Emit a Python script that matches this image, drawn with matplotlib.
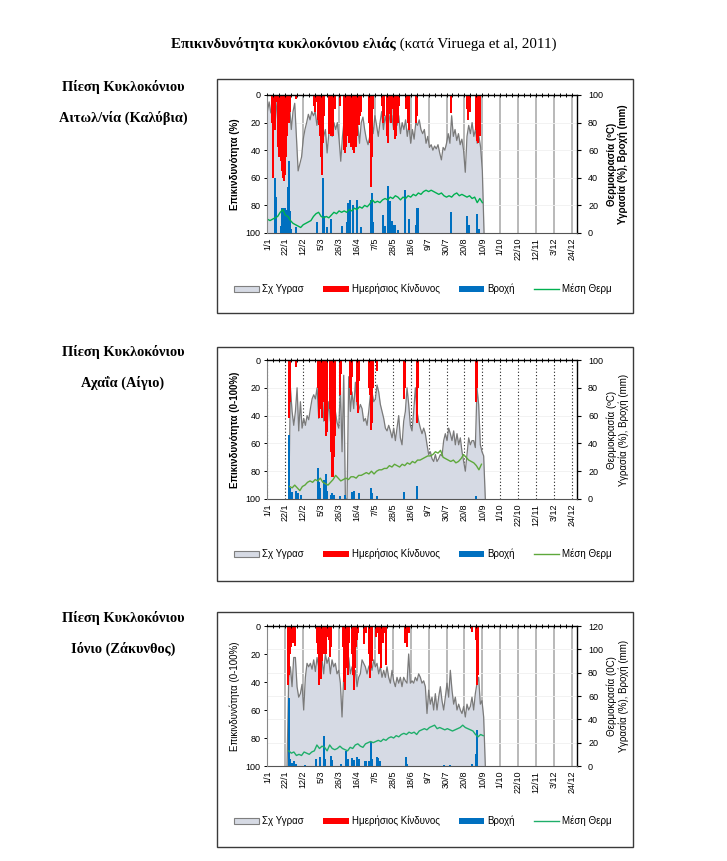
import numpy as np
import matplotlib
matplotlib.use("Agg")
import matplotlib.pyplot as plt
from matplotlib.patches import Rectangle, Patch
from matplotlib.ticker import MultipleLocator

plt.rcParams['font.family'] = ['Liberation Sans', 'DejaVu Sans']

W, H = 727, 861

TITLE_BOLD = "Επικινδυνότητα κυκλοκόνιου ελιάς"
TITLE_REST = " (κατά Viruega et al, 2011)"

# x axis = day of year (0 = 1/1), one label every 21 days
tick_labels = ['1/1', '22/1', '12/2', '5/3', '26/3', '16/4', '7/5', '28/5', '18/6',
               '9/7', '30/7', '20/8', '10/9', '1/10', '22/10', '12/11', '3/12', '24/12']

# ---------------- Αιτωλ/νία (Καλύβια) ----------------
hum1_span = (0, 254)          # first / last day of the humidity series
hum1 = [88, 95, 87, 92, 85, 95, 82, 92, 80, 90, 78, 88, 82, 92, 75, 88, 94, 70, 45, 50,
        55, 68, 75, 80, 86, 82, 88, 85, 88, 78, 86, 72, 80, 70, 75, 58, 72, 78, 70, 80,
        75, 80, 68, 52, 70, 82, 75, 85, 72, 80, 65, 75, 70, 78, 65, 80, 84, 75, 68, 64,
        70, 82, 72, 85, 78, 70, 80, 88, 75, 85, 78, 88, 80, 85, 75, 82, 78, 85, 72, 80,
        75, 82, 70, 78, 65, 75, 68, 80, 78, 82, 75, 72, 75, 65, 70, 62, 64, 60, 63, 61,
        64, 58, 53, 62, 60, 65, 72, 65, 85, 70, 75, 67, 72, 64, 68, 60, 44, 70, 78, 72,
        80, 70, 75, 65, 70, 62, 45, 0]
risk1_days = [5, 6, 7, 8, 9, 10, 12, 13, 14, 15, 16, 17, 18, 19, 20, 21, 22, 23, 25, 26,
              33, 55, 56, 57, 59, 60, 61, 62, 63, 64, 65, 66, 72, 73, 74, 76, 77, 79, 85, 90,
              91, 92, 93, 94, 95, 96, 97, 98, 99, 100, 101, 102, 103, 104, 105, 106, 107,
              108, 109, 110,
              119, 120, 121, 122, 123, 124, 134, 135, 137, 140, 141, 142, 144, 145, 147,
              148, 150, 151, 153, 154,
              162, 165, 166, 174, 175, 215, 234, 235, 236, 238, 245, 246, 247, 248, 249]
risk1 = [20, 55, 60, 15, 25, 5, 10, 38, 45, 30, 48, 55, 60, 62, 58, 58, 45, 30, 20, 12,
         3, 8, 12, 5, 18, 22, 10, 30, 45, 58, 35, 15, 28, 10, 30, 5, 30, 10, 8, 40,
         42, 38, 20, 25, 30, 35, 28, 38, 12, 40, 42, 20, 30, 38, 30, 8, 22,
         15, 8, 12,
         20, 35, 50, 67, 45, 10, 8, 20, 15, 30, 35, 6, 14, 20, 10,
         25, 32, 30, 20, 8,
         10, 20, 25, 20, 15, 13, 10, 18, 8, 12, 25, 33, 35, 20, 30]
rain1_days = [9, 10, 16, 17, 18, 19, 20, 21, 22, 23, 24, 25, 26, 27, 28, 34, 58, 65, 66,
              70, 74, 75, 87, 93, 95, 97, 100, 105, 110, 121, 122, 123, 124, 136, 138,
              141, 144, 146, 149, 153, 161, 166, 174, 176, 215, 234, 236, 246, 248]
rain1 = [40, 26, 5, 18, 17, 12, 18, 15, 17, 14, 33, 52, 16, 8, 3, 4, 8, 40, 12,
         4, 10, 6, 5, 8, 22, 24, 20, 24, 4, 10, 24, 29, 8, 13, 5,
         34, 23, 9, 6, 2, 31, 10, 6, 18, 15, 12, 6, 14, 3]
temp1_start = 0               # one reading every 3 days
temp1 = [10, 9, 10, 11, 12, 15, 17, 13, 12, 9, 7, 6, 5, 4, 6, 7, 8, 9, 12, 14,
         15, 12, 11, 12, 11, 13, 15, 14, 16, 15, 16, 15, 17, 16, 18, 17, 19, 18, 20, 19,
         21, 24, 22, 23, 22, 24, 25, 24, 26, 25, 27, 26, 24, 26, 25, 27, 26, 28, 27, 29,
         28, 30, 31, 30, 31, 30, 29, 28, 29, 27, 26, 27, 26, 28, 29, 27, 28, 27, 26, 27,
         25, 26, 22, 25, 22]

# ---------------- Αχαΐα (Αίγιο) ----------------
hum2_span = (25, 255.5)
hum2 = [0, 80, 63, 53, 63, 80, 49, 70, 51, 58, 53, 60, 57, 65, 72, 75, 72, 80, 58, 75, 82,
        56, 60, 51, 70, 56, 63, 49, 63, 55, 51, 80, 34, 89, 0, 0, 88, 63, 77, 65, 84,
        68, 64, 68, 65, 56, 58, 53, 63, 75, 77, 70, 72, 82, 77, 68, 63, 58, 51, 49, 53,
        49, 44, 51, 42, 51, 60, 44, 39, 56, 63, 80, 68, 53, 49, 63, 80, 63, 56, 51, 47,
        51, 47, 39, 32, 34, 29, 27, 32, 27, 29, 32, 31, 42, 47, 42, 51, 47, 42, 49, 39,
        47, 39, 44, 34, 27, 20, 32, 44, 39, 42, 42, 37, 80, 68, 39, 34, 31, 0]
risk2_days = [25, 26, 34, 59, 60, 61, 62, 63, 64, 65, 66, 67, 68, 69, 70, 73, 74, 75, 76,
              77, 78, 79, 85, 86, 97, 98, 99, 105, 106, 107, 119, 120, 121, 122, 123, 124,
              128, 160, 161, 175, 176, 245, 246]
risk2 = [42, 30, 5, 20, 42, 40, 15, 35, 42, 30, 25, 10, 44, 55, 52, 35, 62, 66, 84,
         84, 70, 55, 25, 10, 20, 25, 12, 30, 38, 15, 20, 25, 35, 50, 45, 20,
         8, 28, 20, 45, 20, 30, 20]
rain2_days = [25, 26, 29, 34, 36, 39, 59, 60, 62, 66, 69, 70, 74, 76, 78, 85, 91, 99, 101,
              107, 121, 122, 123, 128, 160, 175, 245]
rain2 = [46, 8, 5, 6, 4, 3, 22, 12, 8, 14, 18, 6, 3, 4, 3, 2, 3, 5, 6,
         4, 8, 6, 4, 2, 5, 9, 2]
temp2_start = 26
temp2 = [9, 8, 10, 8, 6, 9, 10, 12, 13, 12, 14, 13, 15, 12, 11, 10, 12, 14, 17, 15,
         13, 14, 15, 14, 16, 16, 15, 17, 17, 18, 19, 18, 20, 18, 20, 21, 21, 22, 22, 24,
         23, 25, 24, 23, 25, 24, 26, 25, 27, 26, 28, 28, 29, 30, 31, 31, 32, 34, 33, 35,
         30, 29, 28, 27, 28, 26, 27, 29, 32, 30, 28, 27, 26, 24, 21, 25]

# ---------------- Ιόνιο (Ζάκυνθος) ----------------
hum3_span = (23, 255.5)
hum3 = [0, 76, 85, 68, 93, 93, 68, 59, 62, 70, 48, 76, 88, 85, 88, 83, 91, 81, 93, 85, 99,
        91, 79, 96, 88, 93, 79, 91, 85, 88, 79, 82, 71, 42, 76, 91, 85, 93, 79, 85, 76,
        82, 68, 76, 79, 91, 88, 85, 79, 85, 88, 82, 91, 85, 88, 79, 85, 76, 82, 76, 85,
        76, 71, 82, 73, 68, 76, 71, 76, 68, 76, 73, 71, 96, 71, 73, 71, 76, 73, 79, 76,
        71, 73, 68, 45, 65, 53, 59, 48, 62, 48, 59, 68, 56, 48, 59, 71, 59, 82, 65, 53,
        59, 48, 53, 48, 45, 51, 42, 53, 48, 51, 59, 48, 62, 71, 76, 53, 56, 42, 0]
risk3_days = [24, 25, 26, 27, 28, 29, 30, 31, 32, 58, 59, 60, 61, 62, 63, 64, 65, 66, 67,
              68, 69, 70, 72, 73, 74, 89, 90, 91, 92, 93, 94, 95, 96, 99, 100, 101, 102,
              103, 104, 105, 106, 113, 115, 119, 120, 121, 122, 123, 127, 128, 131, 132,
              133, 135, 137, 139, 161, 164, 166, 240, 245, 246, 247]
risk3 = [42, 35, 20, 10, 15, 8, 12, 5, 14, 12, 20, 36, 42, 30, 38, 25, 15, 20, 8,
         12, 20, 8, 10, 22, 15, 15, 40, 46, 30, 20, 35, 25, 12, 20, 35, 38, 46,
         30, 15, 10, 5, 13, 5, 20, 37, 30, 12, 25, 8, 5, 20, 8,
         30, 12, 5, 28, 12, 15, 5, 4, 10, 42, 35]
rain3_days = [25, 26, 29, 31, 33, 44, 57, 62, 66, 68, 74, 76, 86, 92, 95, 99, 101, 105,
              107, 115, 119, 121, 123, 128, 130, 132, 162, 164, 207, 214, 240, 245, 246]
rain3 = [58, 6, 3, 4, 2, 1, 6, 8, 26, 6, 9, 5, 2, 13, 6, 7, 5, 8,
         6, 4, 4, 21, 6, 8, 7, 4, 8, 2, 1, 1, 2, 10, 31]
temp3_start = 25
temp3 = [13, 11, 12, 9, 10, 9, 12, 11, 10, 12, 13, 18, 15, 17, 16, 13, 18, 15, 14, 15,
         17, 15, 14, 13, 16, 15, 18, 19, 17, 16, 19, 20, 21, 20, 21, 22, 21, 23, 22, 24,
         25, 24, 26, 25, 27, 28, 27, 29, 28, 29, 27, 30, 31, 32, 31, 33, 34, 35, 32, 33,
         32, 31, 32, 31, 30, 31, 32, 33, 35, 33, 32, 31, 30, 27, 25, 27, 26]

AREA = '#d6dae4'
RED = '#ff0000'
BLUE = '#0070c0'
BAR_W = 2.4   # days

fig = plt.figure(figsize=(W / 100, H / 100), dpi=100)


def fx(px):
    return px / W


def fy(py):
    return 1 - py / H


def risk_panel(plot_px, box_px, legend_py, heads, left_label, left_bold, right_label,
               right_bold, right_max, grid_kw, temp_color,
               hum_span, hum, risk_days, risk, rain_days, rain, temp_start, temp):
    x0, y0, x1, y1 = plot_px
    rect = [fx(x0), fy(y1), fx(x1 - x0), (y1 - y0) / H]
    ax_r = fig.add_axes(rect)                      # right scale
    ax_l = fig.add_axes(rect, sharex=ax_r)         # left (inverted) scale
    ax_l.patch.set_visible(False)

    hum_days = np.linspace(hum_span[0], hum_span[1], len(hum))
    temp_days = np.arange(temp_start, temp_start + 3 * len(temp), 3)

    ax_r.fill_between(hum_days, hum, color=AREA, lw=0, zorder=1)
    ax_r.plot(hum_days, hum, color='#7a7a7a', lw=0.9, zorder=2)
    ax_r.bar(rain_days, rain, width=BAR_W, color=BLUE, lw=0, zorder=3)
    ax_r.plot(temp_days, temp, color=temp_color, lw=1.0, zorder=4)
    ax_l.bar(risk_days, risk, width=BAR_W, color=RED, lw=0)

    ax_r.set_xlim(-0.5, 363)
    ax_r.set_ylim(0, right_max)
    ax_l.set_ylim(100, 0)

    ax_r.set_xticks(np.arange(len(tick_labels)) * 21)
    ax_r.set_xticklabels(tick_labels, rotation=90, fontsize=6.5)
    ax_r.xaxis.set_minor_locator(MultipleLocator(7))
    ax_r.tick_params(axis='x', which='both', length=0, pad=3.5, top=False)
    ax_r.yaxis.tick_right()
    ax_r.set_yticks(range(0, right_max + 1, 20))
    ax_r.tick_params(axis='y', labelsize=6.5, length=3, width=0.8, pad=5)
    ax_r.grid(axis='x', which='major', **grid_kw)
    ax_r.grid(axis='y', color='#f0f0f0', lw=0.6)
    ax_r.set_axisbelow(True)

    ax_l.tick_params(axis='x', which='both', top=True, bottom=False, labeltop=False,
                     labelbottom=False, direction='inout', length=3, width=0.7)
    ax_l.set_yticks(range(0, 101, 20))
    ax_l.tick_params(axis='y', labelsize=6.5, length=2.5, width=0.7, pad=2)

    for s in ('top', 'left'):
        ax_r.spines[s].set_visible(False)
    ax_r.spines['right'].set_color('black')
    ax_r.spines['right'].set_linewidth(1.0)
    ax_r.spines['bottom'].set_color('#555555')
    ax_r.spines['bottom'].set_linewidth(0.8)
    for s in ('right', 'bottom'):
        ax_l.spines[s].set_visible(False)
    ax_l.spines['top'].set_color('black')
    ax_l.spines['top'].set_linewidth(1.0)
    ax_l.spines['left'].set_color('#888888')
    ax_l.spines['left'].set_linewidth(0.8)

    ymid = fy((y0 + y1) / 2)
    fig.text(fx(x0 - 32), ymid, left_label, rotation=90, ha='center', va='center',
             fontsize=7, fontweight='bold' if left_bold else 'normal')
    fig.text(fx(x1 + 40.5), ymid, right_label, rotation=90, ha='center', va='center',
             fontsize=7, multialignment='center', linespacing=1.15,
             fontweight='bold' if right_bold else 'normal')

    bx0, by0, bx1, by1 = box_px
    fig.add_artist(Rectangle((fx(bx0), fy(by1)), fx(bx1 - bx0), (by1 - by0) / H,
                             transform=fig.transFigure, fill=False,
                             ec='#3a3a3a', lw=1.0))

    handles = [Patch(facecolor=AREA, edgecolor='#7f7f7f', lw=0.8),
               Patch(facecolor=RED), Patch(facecolor=BLUE),
               plt.Line2D([], [], color=temp_color, lw=1.0)]
    labels = ['Σχ Υγρασ', 'Ημερήσιος Κίνδυνος', 'Βροχή', 'Μέση Θερμ']
    fig.legend(handles, labels, loc='center', bbox_to_anchor=(fx(423), fy(legend_py)),
               ncol=4, frameon=False, fontsize=7, handlelength=2.6, handleheight=0.55,
               handletextpad=0.3, columnspacing=2.0)

    for text, py in zip(heads, (y0 - 8, y0 + 23)):
        fig.text(fx(123), fy(py), text, ha='center', va='center', fontsize=10.4,
                 fontweight='bold', family=['Liberation Serif', 'DejaVu Serif'])


solid_grid = dict(color='#a6a6a6', lw=1.1, ls='-')
dotted_grid = dict(color='#222222', lw=0.8, ls=(0, (1, 2)))

risk_panel((267, 95, 577, 233), (217, 79, 633, 313), 289,
           ("Πίεση Κυκλοκόνιου", "Αιτωλ/νία (Καλύβια)"),
           "Επικινδυνότητα (%)", True,
           "Θερμοκρασία (ºC)\nΥγρασία (%), Βροχή (mm)", True,
           100, solid_grid, '#00b050',
           hum1_span, hum1, risk1_days, risk1, rain1_days, rain1, temp1_start, temp1)

risk_panel((267, 360, 577, 499), (217, 347, 633, 581), 554,
           ("Πίεση Κυκλοκόνιου", "Αχαΐα (Αίγιο)"),
           "Επικινδυνότητα (0-100%)", True,
           "Θερμοκρασία (ºC)\nΥγρασία (%), Βροχή (mm)", False,
           100, dotted_grid, '#5ea83b',
           hum2_span, hum2, risk2_days, risk2, rain2_days, rain2, temp2_start, temp2)

risk_panel((267, 626, 577, 766), (217, 612, 633, 847), 821,
           ("Πίεση Κυκλοκόνιου", "Ιόνιο (Ζάκυνθος)"),
           "Επικινδυνότητα (0-100%)", False,
           "Θερμοκρασία (0C)\nΥγρασία (%), Βροχή (mm)", False,
           120, solid_grid, '#1fae6a',
           hum3_span, hum3, risk3_days, risk3, rain3_days, rain3, temp3_start, temp3)

# title: bold part + regular part, centred as a whole
renderer = fig.canvas.get_renderer()
serif = ['Liberation Serif', 'DejaVu Serif']
t1 = fig.text(0, fy(44), TITLE_BOLD, fontsize=10.8, fontweight='bold', family=serif,
              va='center', ha='left')
t2 = fig.text(0, fy(44), TITLE_REST, fontsize=10.8, family=serif, va='center', ha='left')
w1 = t1.get_window_extent(renderer).width
w2 = t2.get_window_extent(renderer).width
start = 364 - (w1 + w2) / 2
t1.set_x(fx(start))
t2.set_x(fx(start + w1))

fig.savefig('out.png', dpi=100)
